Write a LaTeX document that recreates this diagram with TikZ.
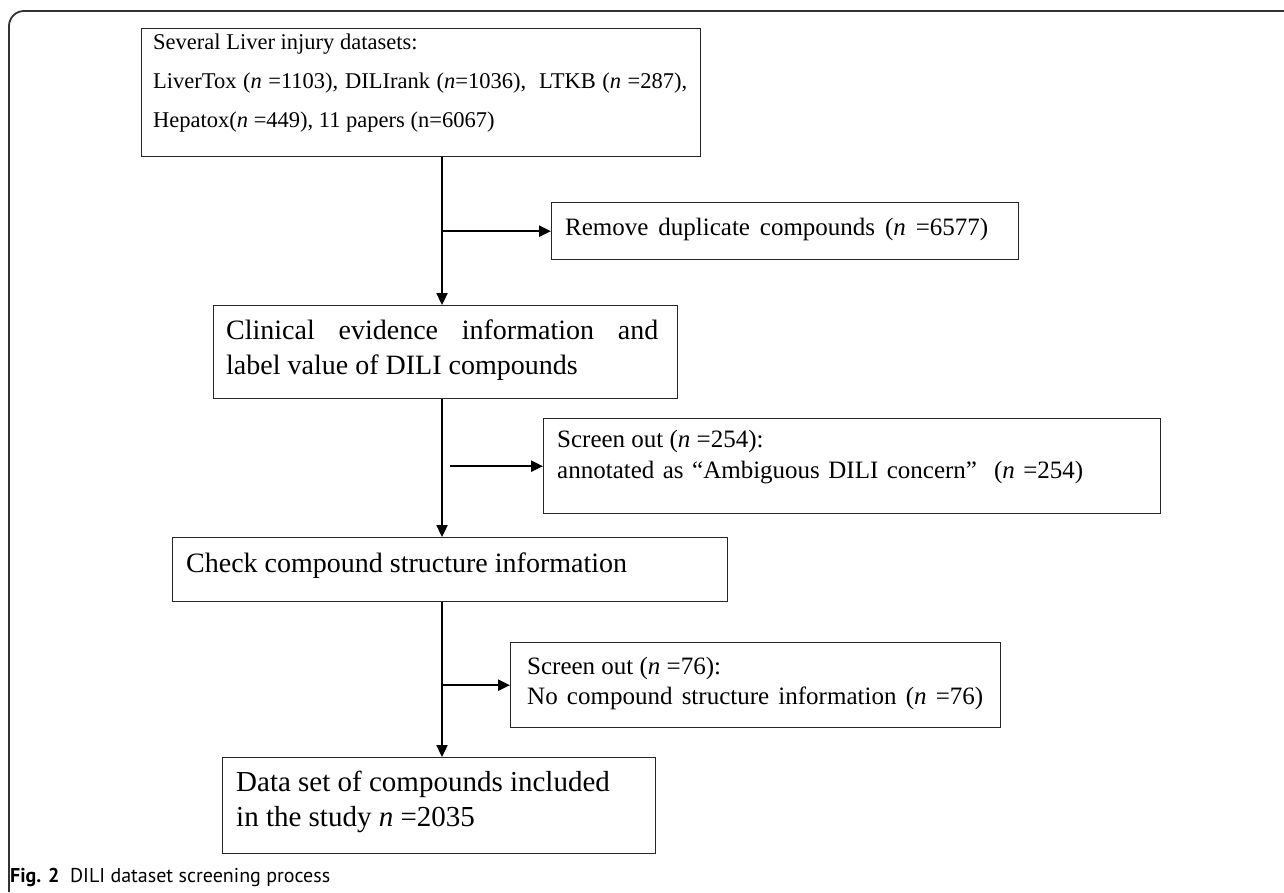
\documentclass[tikz,border=0pt]{standalone}
\usepackage{fontspec}
\setmainfont{Liberation Serif}
\newfontfamily\capfont{PT Sans}
\usetikzlibrary{arrows.meta,calc}
\tikzset{
  boxshape/.style={draw=black!85, line width=1.4pt, rectangle, anchor=north west, inner sep=0pt},
  txt/.style={anchor=west, inner sep=0pt, align=left},
  arr/.style={line width=2.3pt, -{Triangle[length=12pt,width=11pt]}},
  frameline/.style={draw=black!80, line width=1.8pt, rounded corners=15pt}
}
\begin{document}
\begin{tikzpicture}[x=1pt,y=-1pt]
\useasboundingbox (0,0) rectangle (1284,892);
\draw[frameline] (9,892) -- (9,11) -- (1284,11);
\coordinate (sp) at (442,0);
% boxes
\node[boxshape, minimum width=700-141, minimum height=128] (b1) at (141,28) {};
\node[boxshape, minimum width=1018-551, minimum height=57] (r1) at (551,202) {};
\node[boxshape, minimum width=677-213, minimum height=93] (b2) at (213,305) {};
\node[boxshape, minimum width=1160-543, minimum height=95] (s1) at (543,418) {};
\node[boxshape, minimum width=727-172, minimum height=64] (b3) at (172,537) {};
\node[boxshape, minimum width=1000-510, minimum height=85] (s2) at (510,642) {};
\node[boxshape, minimum width=655-222, minimum height=96] (b5) at (222,757) {};
% texts
\node[txt, font=\fontsize{22.5}{39}\selectfont] (b1t) at (153,83)
 {Several Liver injury datasets:\\\makebox[534pt][s]{LiverTox (\textit{n} =1103), DILIrank (\textit{n}=1036),\ \ LTKB (\textit{n} =287),}\\Hepatox(\textit{n} =449), 11 papers (n=6067)};
\node[txt, font=\fontsize{25}{30}\selectfont] (r1t) at (565,229)
 {\makebox[423pt][s]{Remove duplicate compounds (\textit{n} =6577)}};
\node[txt, font=\fontsize{28}{35}\selectfont] (b2t) at (226,350)
 {\makebox[432pt][s]{Clinical evidence information and}\\label value of DILI compounds};
\node[txt, font=\fontsize{25}{31}\selectfont] (s1t) at (557,457)
 {Screen out (\textit{n} =254):\\\makebox[526pt][s]{annotated as “Ambiguous DILI concern”\ \ (\textit{n} =254)}};
\node[txt, font=\fontsize{28}{34}\selectfont] (b3t) at (186,566)
 {Check compound structure information};
\node[txt, font=\fontsize{25}{30}\selectfont] (s2t) at (527,683)
 {Screen out (\textit{n} =76):\\\makebox[456pt][s]{No compound structure information (\textit{n} =76)}};
\node[txt, font=\fontsize{29}{35}\selectfont] (b5t) at (236,802)
 {Data set of compounds included\\in the study \textit{n} =2035};
\node[txt, font=\capfont\fontsize{20}{22}\selectfont] (cap) at (10,877)
 {\textbf{Fig. 2}\ \ DILI dataset screening process};
% connectors
\draw[arr] (b1.south -| sp) -- (b2.north -| sp);
\draw[arr] (b2.south -| sp) -- (b3.north -| sp);
\draw[arr] (b3.south -| sp) -- (b5.north -| sp);
\draw[arr] (sp |- r1.west) -- (r1.west);
\draw[arr] ([xshift=8pt]sp |- s1.west) -- (s1.west);
\draw[arr] (sp |- s2.west) -- (s2.west);
\end{tikzpicture}
\end{document}
